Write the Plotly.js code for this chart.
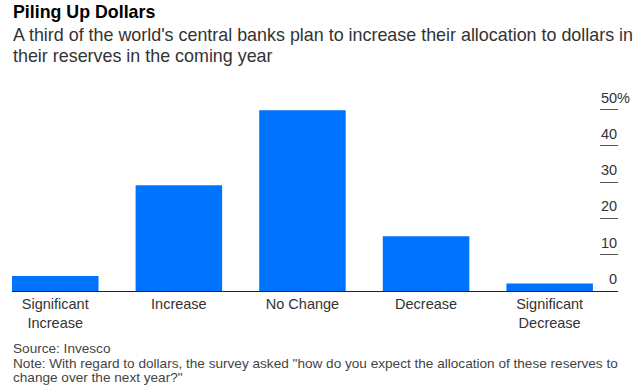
<!DOCTYPE html>
<html>
<head>
<meta charset="utf-8">
<script src="https://cdn.plot.ly/plotly-3.0.1.min.js"></script>
<style>html,body{margin:0;padding:0;background:#fff;}#chart{width:639px;height:390px;}</style>
</head>
<body>
<div id="chart"></div>
<script>
const categories = ["Significant<br>Increase", "Increase", "No Change", "Decrease", "Significant<br>Decrease"];
const shares = [4.1, 29.1, 49.8, 15.1, 2.1];
const tickValues = [0, 10, 20, 30, 40, 50];
const tickLabels = ["0", "10", "20", "30", "40", "50"];

const FONT = "Liberation Sans, Arial, sans-serif";
const plotTop = 91, plotBottom = 291, plotH = plotBottom - plotTop;
const py = p => (plotBottom - p) / plotH;

const annotations = [];
function textAnn(text, ypx, size, color, bold) {
  annotations.push({
    text: bold ? "<b>" + text + "</b>" : text,
    xref: "paper", yref: "paper", x: 0, y: py(ypx),
    xanchor: "left", yanchor: "middle", showarrow: false,
    font: {family: FONT, size: size, color: color}, borderpad: 0
  });
}
textAnn("Piling Up Dollars", 12.5, 17.8, "#000", true);
textAnn("A third of the world's central banks plan to increase their allocation to dollars in", 35, 17.9, "#333");
textAnn("their reserves in the coming year", 56.5, 17.9, "#333");
textAnn("Source: Invesco", 348, 13.6, "#444");
textAnn("Note: With regard to dollars, the survey asked \"how do you expect the allocation of these reserves to", 363, 13.6, "#444");
textAnn("change over the next year?\"", 377, 13.6, "#444");

tickValues.forEach((v, i) => {
  annotations.push({
    text: tickLabels[i], xref: "paper", yref: "y", x: 1, y: v,
    xanchor: "right", yanchor: "bottom", yshift: 3, showarrow: false,
    font: {family: FONT, size: 14.5, color: "#333"}, borderpad: 0
  });
});
annotations.push({
  text: "%", xref: "paper", yref: "y", x: 1, y: tickValues[tickValues.length - 1],
  xanchor: "left", yanchor: "bottom", yshift: 3, xshift: -2, showarrow: false,
  font: {family: FONT, size: 14.5, color: "#333"}, borderpad: 0
});

const data = [{
  type: "bar",
  x: [0, 1, 2, 3, 4],
  y: shares,
  marker: {color: "#0073ff", line: {width: 0}},
  hoverinfo: "none"
}];

const layout = {
  width: 639, height: 390,
  margin: {l: 12, r: 21, t: plotTop, b: 390 - plotBottom, pad: 0},
  paper_bgcolor: "#fff", plot_bgcolor: "#fff",
  showlegend: false,
  bargap: 0.3,
  xaxis: {
    range: [-0.35, 4.553],
    tickmode: "array", tickvals: [0, 1, 2, 3, 4], ticktext: categories,
    showgrid: false, zeroline: false,
    showline: true, linecolor: "#222", linewidth: 1,
    ticks: "", tickfont: {family: FONT, size: 14.5, color: "#333"},
    fixedrange: true
  },
  yaxis: {
    range: [0, 55.1], side: "right",
    tickmode: "array", tickvals: tickValues.slice(1),
    ticks: "inside", ticklen: 18, tickwidth: 1, tickcolor: "#555",
    showticklabels: false, showgrid: false, zeroline: false, showline: false,
    fixedrange: true
  },
  annotations: annotations
};

Plotly.newPlot("chart", data, layout, {displayModeBar: false, staticPlot: true});
</script>
</body>
</html>
